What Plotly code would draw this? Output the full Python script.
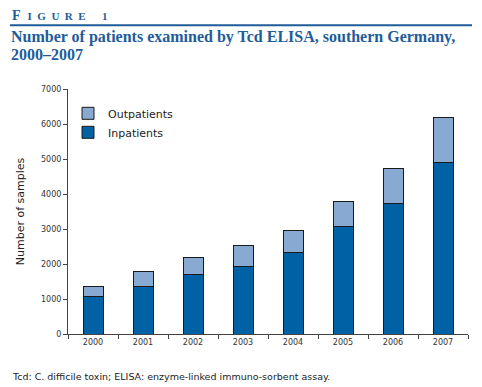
import plotly.graph_objects as go

years = ["2000", "2001", "2002", "2003", "2004", "2005", "2006", "2007"]
inpatients = [1060, 1360, 1700, 1940, 2320, 3060, 3730, 4910]
totals = [1350, 1800, 2200, 2520, 2950, 3790, 4740, 6200]
outpatients = [t - i for t, i in zip(totals, inpatients)]
y_ticks = [0, 1000, 2000, 3000, 4000, 5000, 6000, 7000]

IN_COLOR = "#0062a4"
OUT_COLOR = "#87a9d2"
EDGE = "#1a1a1a"
BLUE = "#1f5c99"
SANS = "DejaVu Sans"

fig = go.Figure()
fig.add_trace(go.Bar(x=years, y=inpatients, name="Inpatients",
                     marker=dict(color=IN_COLOR, line=dict(color=EDGE, width=1)),
                     width=0.4))
fig.add_trace(go.Bar(x=years, y=outpatients, name="Outpatients",
                     marker=dict(color=OUT_COLOR, line=dict(color=EDGE, width=1)),
                     width=0.4))

fig.update_layout(
    barmode="stack",
    width=482, height=387,
    margin=dict(l=68, r=14, t=89, b=53),
    paper_bgcolor="white", plot_bgcolor="white",
    showlegend=True,
    legend=dict(x=0.0, y=0.96, xanchor="left", yanchor="top",
                traceorder="reversed", bgcolor="rgba(0,0,0,0)",
                font=dict(family=SANS, size=11, color="#222"),
                tracegroupgap=4, itemwidth=30),
    font=dict(family=SANS, color="#333"),
)

fig.update_xaxes(
    type="category", showline=True, linecolor="#444", linewidth=1,
    ticks="outside", ticklen=4, tickcolor="#444", tickson="boundaries",
    tickfont=dict(family=SANS, size=8, color="#333"),
    showgrid=False, zeroline=False, fixedrange=True,
)
fig.update_yaxes(
    range=[0, 7000], tickvals=y_ticks, ticktext=[str(v) for v in y_ticks],
    showline=True, linecolor="#444", linewidth=1,
    ticks="outside", ticklen=4, tickcolor="#444",
    tickfont=dict(family=SANS, size=8, color="#333"),
    showgrid=False, zeroline=False,
    title=dict(text="Number of samples", font=dict(family=SANS, size=11, color="#222"), standoff=14),
)

# Header
sc = "\u2002".join(["I", "G", "U", "R", "E"])
fig.add_annotation(xref="paper", yref="paper", x=-0.145, y=1.302, xanchor="left", yanchor="middle",
                   text="<b>F\u2002<span style='font-size:11px'>" + sc + "\u2003\u2002" + "1</span></b>",
                   showarrow=False, font=dict(family="Liberation Serif", size=14, color=BLUE))
fig.add_shape(type="line", xref="paper", yref="paper", x0=-0.145, x1=1.01, y0=1.26, y1=1.26,
              line=dict(color=BLUE, width=2))
fig.add_annotation(xref="paper", yref="paper", x=-0.145, y=1.212, xanchor="left", yanchor="middle",
                   text="<b>Number of patients examined by Tcd ELISA, southern Germany,</b>",
                   showarrow=False, borderpad=0,
                   font=dict(family="Liberation Serif", size=16, color=BLUE))
fig.add_annotation(xref="paper", yref="paper", x=-0.145, y=1.139, xanchor="left", yanchor="middle",
                   text="<b>2000–2007</b>",
                   showarrow=False, borderpad=0,
                   font=dict(family="Liberation Serif", size=16, color=BLUE))
# Footnote
fig.add_annotation(xref="paper", yref="paper", x=-0.145, y=-0.175, xanchor="left", yanchor="middle",
                   text="Tcd: C. difficile toxin; ELISA: enzyme-linked immuno-sorbent assay.",
                   showarrow=False, font=dict(family=SANS, size=9.5, color="#222"))

fig.write_html("out.html", config={"displayModeBar": False},
               post_script="document.body.style.margin='0';")
